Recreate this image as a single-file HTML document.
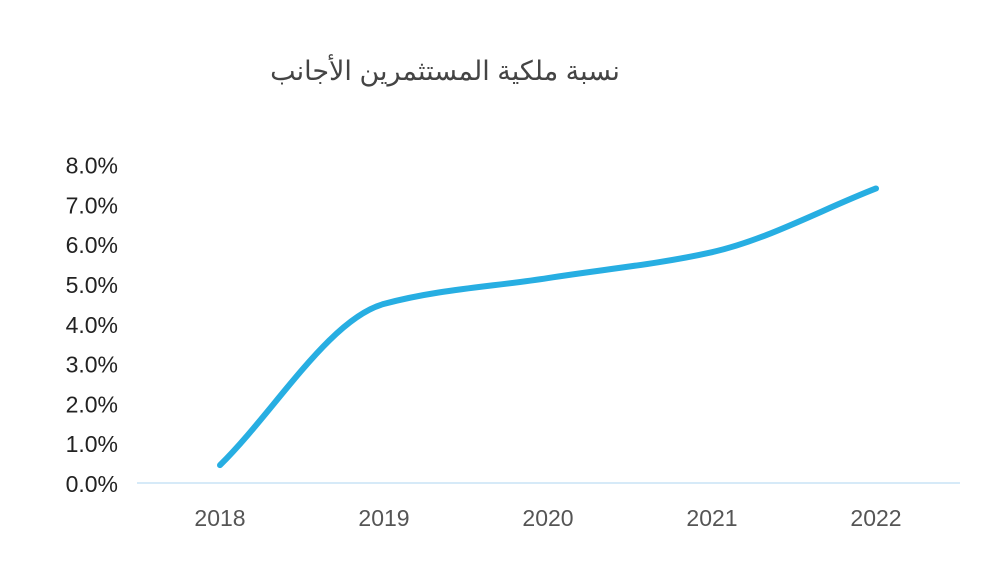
<!DOCTYPE html>
<html><head><meta charset="utf-8"><style>
body{margin:0;background:#fff;width:1007px;height:564px;overflow:hidden;font-family:"Liberation Sans","Noto Sans CJK SC",sans-serif}
</style></head><body>
<svg id="chart" width="1007" height="564" xmlns="http://www.w3.org/2000/svg">
<text x="445" y="80" text-anchor="middle" font-size="27" fill="#444" font-family="'Liberation Sans','Noto Sans CJK SC',sans-serif" direction="rtl">نسبة ملكية المستثمرين الأجانب</text>
<g id="yaxis"></g>
<g id="xaxis"></g>
<line x1="137" x2="960" y1="483" y2="483" stroke="#d6eaf8" stroke-width="2"/>
<path id="line" fill="none" stroke="#27aee2" stroke-width="6" stroke-linecap="round"/>
</svg>
<script>
const years=["2018","2019","2020","2021","2022"];
const values=[0.45,4.5,5.15,5.8,7.4];
const yTicks=[0,1,2,3,4,5,6,7,8];
const svg=document.getElementById('chart');
const ns='http://www.w3.org/2000/svg';
const x=i=>220+i*164;
const y=v=>483-v*39.8;
const ya=document.getElementById('yaxis');
yTicks.forEach(t=>{
 const e=document.createElementNS(ns,'text');
 
 
 e.setAttribute('x',118);e.setAttribute('y',y(t)+9);
 e.setAttribute('text-anchor','end');e.setAttribute('font-size','23');e.setAttribute('fill','#222');
 e.textContent=t.toFixed(1)+'%';ya.appendChild(e);
});
const xa=document.getElementById('xaxis');
years.forEach((c,i)=>{
 const e=document.createElementNS(ns,'text');
 
 
 e.setAttribute('x',x(i));e.setAttribute('y',526);
 e.setAttribute('text-anchor','middle');e.setAttribute('font-size','23');e.setAttribute('fill','#555');
 e.textContent=c;xa.appendChild(e);
});
// monotone cubic interpolation
const P=values.map((v,i)=>[x(i),y(v)]);
const n=P.length;
const dx=[],s=[];
for(let i=0;i<n-1;i++){dx.push(P[i+1][0]-P[i][0]);s.push((P[i+1][1]-P[i][1])/dx[i]);}
const m=[s[0]];
for(let i=1;i<n-1;i++){m.push(s[i-1]*s[i]<=0?0:2/(1/s[i-1]+1/s[i]));}
m.push(s[n-2]);
let d='M'+P[0][0]+','+P[0][1];
for(let i=0;i<n-1;i++){
 const h=dx[i]/3;
 d+=' C'+(P[i][0]+h)+','+(P[i][1]+m[i]*h)+' '+(P[i+1][0]-h)+','+(P[i+1][1]-m[i+1]*h)+' '+P[i+1][0]+','+P[i+1][1];
}
document.getElementById('line').setAttribute('d',d);
</script>
</body></html>
